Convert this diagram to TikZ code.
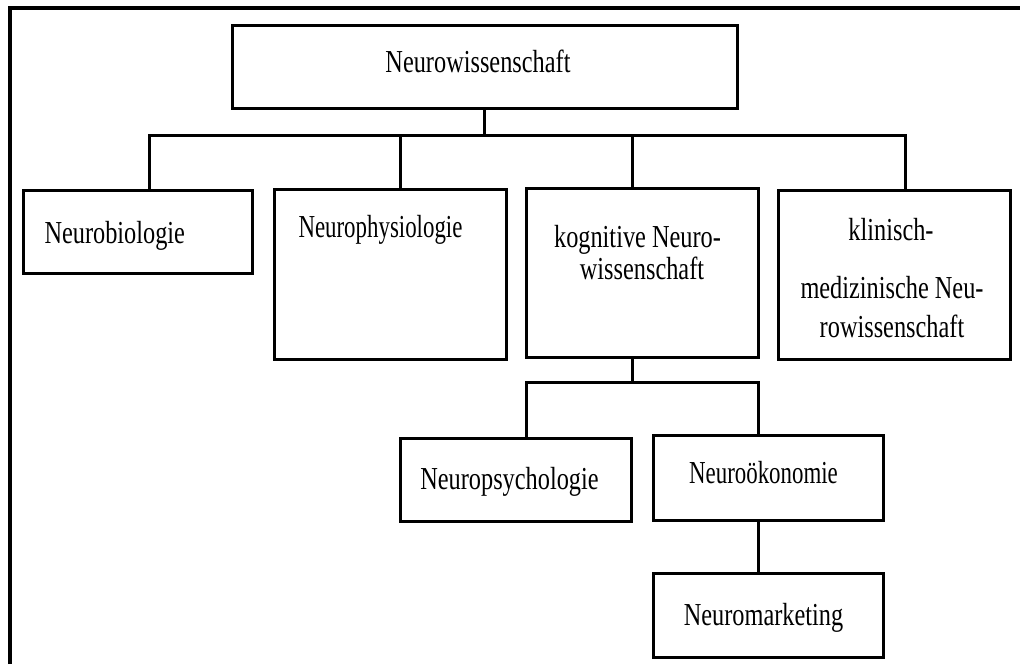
\documentclass[tikz,border=0pt]{standalone}
\usepackage{fontspec}
\setmainfont[FakeStretch=0.76]{Liberation Serif}
\newfontfamily\narrowfont[FakeStretch=0.715]{Liberation Serif}
\usetikzlibrary{positioning}

\begin{document}
\begin{tikzpicture}[x=1pt,y=-1pt,line width=3pt,
  box/.style 2 args={draw,line width=3pt,minimum width=#1pt,minimum height=#2pt,inner sep=0pt},
  lbl/.style={font=\fontsize{32}{33}\selectfont,inner sep=0pt,anchor=base},
  lblw/.style={lbl,anchor=base west},
  lbln/.style={lbl,font=\fontsize{32}{33}\narrowfont}]
  \useasboundingbox (0,0) rectangle (1020,664);
  % frame (cut off at right and bottom)
  \draw[line width=4pt] (10,664) -- (10,8) -- (1020,8);

  % top level
  \node[box={505}{83}] (top) at (484.5,66.5) {};
  \node[lbl] (ttop) at (478,72) {Neurowissenschaft};

  % second level
  \node[box={229}{83}] (bio) at (137.5,231.5) {};
  \node[box={232}{170}] (phys) at (390,274) {};
  \node[box={232}{169}] (kog) at (642,272.5) {};
  \node[box={232}{169}] (klin) at (894,274.5) {};
  \node[lblw] (tbio) at (43,243) {Neurobiologie};
  \node[lbln,anchor=base west] (tphys) at (297,237) {Neurophysiologie};
  \node[lbl] (tkog1) at (637.5,247) {kognitive Neuro-};
  \node[lbl] (tkog2) at (642,279) {wissenschaft};
  \node[lbl] (tklin1) at (891,240.5) {klinisch-};
  \node[lbl] (tklin2) at (892,298) {medizinische Neu-};
  \node[lbl] (tklin3) at (892,337) {rowissenschaft};

  % third and fourth level
  \node[box={231}{83}] (psych) at (515.5,479.5) {};
  \node[box={230}{85}] (oek) at (768,477.5) {};
  \node[box={230}{84}] (mark) at (768,615) {};
  \node[lbl] (tpsych) at (509.5,489) {Neuropsychologie};
  \node[lbln] (toek) at (763.5,483) {Neuroökonomie};
  \node[lbl] (tmark) at (763.5,625) {Neuromarketing};

  % connectors
  \coordinate (barL) at (149,135);
  \coordinate (barR) at (905,135);
  \coordinate (dphys) at (400,135);
  \coordinate (dkog) at (632,135);
  \draw (top.south) -- (top.south |- barL);
  \draw (barL |- bio.north) -- (barL) -- (barR) -- (barR |- klin.north);
  \draw (dphys) -- (dphys |- phys.north);
  \draw (dkog) -- (dkog |- kog.north);

  \coordinate (kdown) at (632,382);
  \coordinate (subL) at (526,382);
  \coordinate (subR) at (758,382);
  \draw (kdown |- kog.south) -- (kdown);
  \draw (subL |- psych.north) -- (subL) -- (subR) -- (subR |- oek.north);
  \draw (subR |- oek.south) -- (subR |- mark.north);
\end{tikzpicture}
\end{document}
